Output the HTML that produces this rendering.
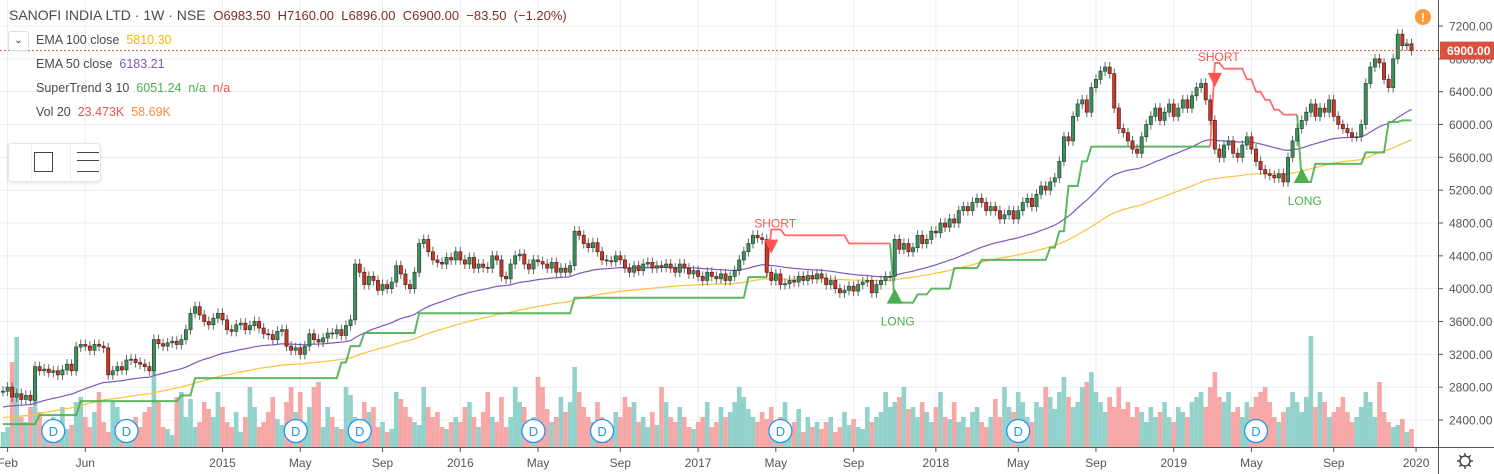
<!DOCTYPE html>
<html><head><meta charset="utf-8">
<style>
body{margin:0;width:1494px;height:474px;overflow:hidden;background:#fff;font-family:"Liberation Sans",sans-serif;position:relative}
svg{position:absolute;left:0;top:0}
.t{position:absolute;white-space:nowrap;font-size:12.5px;color:#4a4a4a}
</style></head><body>
<svg id="c" width="1494" height="474"></svg>
<div class="t" style="left:9px;top:7px;font-size:14px">SANOFI INDIA LTD · 1W · NSE&nbsp;&nbsp;<span style="color:#7a2e22;font-size:13px">O6983.50&nbsp;&nbsp;H7160.00&nbsp;&nbsp;L6896.00&nbsp;&nbsp;C6900.00&nbsp;&nbsp;−83.50&nbsp;&nbsp;(−1.20%)</span></div>
<div style="position:absolute;left:8px;top:31px;width:19px;height:18px;border:1px solid #ddd;border-radius:3px;background:#fff;font-size:10px;text-align:center;line-height:17px;color:#333">&#8964;</div>
<div class="t" style="left:36px;top:33px">EMA 100 close&nbsp;&nbsp;<span style="color:#f9b800">5810.30</span></div>
<div class="t" style="left:36px;top:57px">EMA 50 close&nbsp;&nbsp;<span style="color:#7e57c2">6183.21</span></div>
<div class="t" style="left:36px;top:81px">SuperTrend 3 10&nbsp;&nbsp;<span style="color:#4caf50">6051.24&nbsp;&nbsp;n/a</span>&nbsp;&nbsp;<span style="color:#ef5350">n/a</span></div>
<div class="t" style="left:36px;top:105px">Vol 20&nbsp;&nbsp;<span style="color:#ef5350">23.473K</span>&nbsp;&nbsp;<span style="color:#ff8a3c">58.69K</span></div>
<div style="position:absolute;left:8px;top:143px;width:91px;height:37px;border:1px solid #e6e6e6;border-radius:4px;background:#fff;box-shadow:0 1px 3px rgba(0,0,0,.12)">
 <div style="position:absolute;left:22px;top:0;width:1px;height:37px;background:#eee"></div>
 <div style="position:absolute;left:61px;top:0;width:1px;height:37px;background:#eee"></div>
 <div style="position:absolute;left:25px;top:8px;width:17px;height:18px;border:1.5px solid #444"></div>
 <div style="position:absolute;left:68px;top:8px;width:22px;height:18px;border-top:1.5px solid #444;border-bottom:1.5px solid #444"><div style="margin-top:7px;border-top:1.5px solid #444"></div></div>
</div>
<script>
const closes=[2750,2800,2680,2720,2650,2700,2640,
3050,3000,3020,2980,3000,2950,3010,3080,3000,
3290,3320,3300,3250,3320,3300,3280,
2950,3000,3050,3010,3130,3140,3100,3080,3050,3000,
3380,3330,3300,3340,3360,3320,3380,3500,
3700,3780,3680,3600,3560,3640,3700,3620,3500,3480,3560,
3580,3500,3550,3600,3520,3450,3440,3380,3480,3500,3300,3250,3280,
3200,3300,3450,3380,3350,3400,3460,3450,3500,3430,3550,3620,
4300,4200,4050,4150,4100,3980,4050,4000,4080,
4280,4180,4050,4000,4200,4550,
4600,4450,4350,4320,4300,4380,4350,4450,4350,4300,4380,4250,4300,
4260,4250,4400,4350,4150,4120,4300,4400,4420,4300,4240,4350,4330,4300,4250,4320,4200,4250,4200,4280,
4700,4650,4550,4500,4560,4450,4350,
4340,4330,4400,4350,4250,4200,4280,4220,4300,4320,4250,4280,4260,4300,4250,4200,4300,
4250,4180,4220,4150,4100,4200,4150,4120,4180,4100,4150,4220,
4350,4450,4550,4650,4620,4600,
4200,4100,4180,4050,4060,4100,4080,4150,4100,4160,4120,4180,4130,4050,4100,
4000,3950,3980,4030,3970,4050,4080,4100,3950,4050,4100,4150,4150,
4600,4480,4550,4450,4500,4650,4550,4600,4700,4680,
4800,4750,4850,4800,4950,5000,4950,5050,
5100,5050,4950,5000,4950,4850,4900,4950,
4850,4950,5050,5100,5000,5150,5250,5200,5300,5350,
5550,5850,5800,
6100,6250,6300,6150,6450,6550,6650,
6700,6620,6200,5950,
5900,5800,5700,5650,5850,
6000,6100,6200,6050,6150,6250,6100,6200,
6300,6200,6350,6450,6500,6300,6050,
5700,5600,5750,5800,5650,5600,5750,5850,
5700,5550,5450,5400,5380,5350,5400,5300,
5600,5800,5950,6050,6150,6250,6100,6200,6150,6300,6100,
6000,5950,5900,5850,5850,
6000,6500,6700,6800,
6750,6550,6450,6800,
7100,6960,6983,6900];
const volumes=[15,20,85,110,30,25,40,55,35,20,15,30,25,40,18,22,45,50,30,20,
35,55,25,15,45,40,25,18,12,30,20,35,40,77,45,20,18,12,50,55,
30,48,20,25,45,38,30,55,40,25,20,35,15,30,60,40,20,25,35,50,
28,22,45,60,35,55,25,40,60,65,20,40,30,20,18,60,52,30,25,45,
35,40,20,25,15,18,55,48,40,30,25,22,60,40,30,35,20,18,25,30,
25,40,45,30,20,35,55,30,25,50,20,30,60,45,40,25,30,70,60,38,
25,30,50,35,45,80,55,40,30,25,45,30,25,20,35,30,50,40,45,25,
30,20,35,22,60,45,30,25,40,30,20,18,25,30,45,20,25,40,30,35,
45,60,50,38,30,25,35,28,40,22,30,45,20,25,38,15,30,20,25,18,
25,30,15,20,35,22,28,20,18,40,25,30,35,55,40,45,50,60,38,40,
30,45,35,25,40,55,30,28,45,25,30,20,35,40,25,20,30,48,30,60,
40,35,55,45,30,25,45,40,60,50,38,55,70,50,40,45,60,65,75,55,
45,35,50,40,60,38,45,30,40,35,25,40,30,35,45,30,25,40,35,30,
45,50,55,40,60,75,50,45,55,35,40,30,45,40,50,55,60,45,30,25,
35,40,55,45,35,50,111,40,55,45,30,35,40,50,35,25,30,40,55,45,
30,65,35,25,20,22,28,15,18];
// supertrend segments: start index, end index (exclusive), level, direction
const stStart=[0,8,17,39,42,74,76,79,91,125,163,168,171,185,195,200,203,208,214,229,231,233,236,238,265,267,272,274,276,278,280,284,287,298,303,306];
const stLevel=[2350,2460,2630,2700,2910,3100,3300,3460,3700,3890,4140,4720,4650,4550,3830,3930,4000,4250,4350,4500,4700,5250,5550,5730,6750,6680,6550,6400,6300,6180,6120,5300,5520,5660,6030,6050];
const stDir=[1,1,1,1,1,1,1,1,1,1,1,-1,-1,-1,1,1,1,1,1,1,1,1,1,1,-1,-1,-1,-1,-1,-1,-1,1,1,1,1,1];
const priceTicks=[7200,6800,6400,6000,5600,5200,4800,4400,4000,3600,3200,2800,2400];
const timeLabels=["Feb","Jun","2015","May","Sep","2016","May","Sep","2017","May","Sep","2018","May","Sep","2019","May","Sep","2020"];
const timeWeeks=[1,18,48,65,83,100,117,135,152,169,186,204,222,239,256,273,291,309];
const dividendWeeks=[11,27,64,78,116,131,170,222,274];
const signalWeeks=[168,195,265,284];
const signalType=["SHORT","LONG","SHORT","LONG"];

const NS="http://www.w3.org/2000/svg",svg=document.getElementById('c');
const X=i=>3+4.573*i, Y=p=>26+(7200-p)*0.082083, VB=447, VY=v=>VB-v;
function mk(tag,a,parent){const e=document.createElementNS(NS,tag);for(const k in a)e.setAttribute(k,a[k]);(parent||svg).appendChild(e);return e;}
// grid
priceTicks.forEach(p=>{const l=mk('line',{x1:0,x2:1438,y1:Y(p),y2:Y(p),stroke:'#ececec'});

});
timeWeeks.forEach(w=>{const l=mk('line',{x1:X(w),x2:X(w),y1:0,y2:447,stroke:'#ececec'});

});
// volume
const opens=closes.map((c,i)=>i?closes[i-1]:c);
volumes.forEach((v,i)=>{const up=closes[i]>=opens[i];const r=mk('rect',{x:X(i)-2.3,y:VY(v),width:4.6,height:v,fill:up?'#92d2cb':'#f6a7a6'});

});
// EMAs
function ema(n,seed){let e=seed;return closes.map(c=>{e=e+(c-e)*2/(n+1);return e;});}
[[ema(100,2420),'#f9c23c','ema-100-line'],[ema(50,2550),'#7e57c2','ema-50-line']].forEach(([a,col,nm])=>{
const p=mk('polyline',{points:a.map((v,i)=>X(i)+','+Y(v)).join(' '),fill:'none',stroke:col,'stroke-width':1.2});

});
// supertrend
const stVals=[],stD=[];
stStart.forEach((s,k)=>{const e=k+1<stStart.length?stStart[k+1]:closes.length;for(let i=s;i<e;i++){stVals[i]=stLevel[k];stD[i]=stDir[k];}});
let run=[],runDir=stD[0];
function flush(){if(run.length){const p=mk('polyline',{points:run.join(' '),fill:'none',stroke:runDir>0?'#4caf50':'#ff5252','stroke-width':runDir>0?2:1.8,'stroke-opacity':runDir>0?0.9:0.85});

}}
stVals.forEach((v,i)=>{if(stD[i]!==runDir){const last=run[run.length-1];flush();run=[last];runDir=stD[i];}run.push(X(i)+','+Y(v));});
flush();
// candles
closes.forEach((c,i)=>{const o=opens[i],up=c>=o,x=X(i),yt=Y(Math.max(o,c)),yb=Y(Math.min(o,c));
const g=mk('g',{});


mk('line',{x1:x,x2:x,y1:yt-5,y2:yb+5,stroke:'#666'},g);
mk('rect',{x:x-1.6,y:yt,width:3.2,height:Math.max(1,yb-yt),fill:up?'#3f8f5d':'#c43a2c',stroke:up?'#1e4a30':'#5a1a14','stroke-width':0.7},g);});
// signals
signalWeeks.forEach((w,k)=>{const x=X(w),g=mk('g',{});


if(signalType[k]=='SHORT'){const y=Y(stVals[w]);
mk('path',{d:`M${x-7} ${y+10}L${x+7} ${y+10}L${x} ${y+24}Z`,fill:'#ff5252'},g);
const t=mk('text',{x:x-17,y:y-2,fill:'#ff5252','font-size':12,'font-family':'Liberation Sans'},g);t.textContent='SHORT';}
else{const y=Y(stVals[w]);
mk('path',{d:`M${x-8} ${y+1}L${x+8} ${y+1}L${x} ${y-14}Z`,fill:'#4caf50'},g);
const t=mk('text',{x:x-14,y:y+23,fill:'#4caf50','font-size':12,'font-family':'Liberation Sans'},g);t.textContent='LONG';}});
// dividends
dividendWeeks.forEach(w=>{const g=mk('g',{});


mk('circle',{cx:X(w),cy:431,r:11.5,fill:'#fff',stroke:'#2196f3','stroke-width':1.3},g);
const t=mk('text',{x:X(w),y:436,fill:'#2196f3','font-size':13,'text-anchor':'middle','font-family':'Liberation Sans'},g);t.textContent='D';});
// last price line
const lp=mk('line',{x1:0,x2:1438,y1:Y(6900),y2:Y(6900),stroke:'#e0503c','stroke-dasharray':'2,2'});


// axes
mk('line',{x1:1438.5,x2:1438.5,y1:0,y2:474,stroke:'#555'});
mk('line',{x1:0,x2:1494,y1:447.5,y2:447.5,stroke:'#555'});
priceTicks.forEach(p=>{mk('line',{x1:1438,x2:1443,y1:Y(p),y2:Y(p),stroke:'#555'});
const t=mk('text',{x:1449,y:Y(p)+4.5,fill:'#555','font-size':12,'font-family':'Liberation Sans'});t.textContent=p.toFixed(2);

});
timeLabels.forEach((s,k)=>{const x=X(timeWeeks[k]);mk('line',{x1:x,x2:x,y1:447,y2:452,stroke:'#555'});
const t=mk('text',{x:x,y:467,fill:'#555','font-size':12,'text-anchor':'middle','font-family':'Liberation Sans'});t.textContent=s;

});
const lb=mk('rect',{x:1440,y:Y(6900)-9,width:54,height:18,fill:'#d9503f'});


const lt=mk('text',{x:1447,y:Y(6900)+4.5,fill:'#fff','font-size':12,'font-weight':'bold','font-family':'Liberation Sans'});lt.textContent='6900.00';
// warning icon
const wi=mk('g',{});


mk('circle',{cx:1423,cy:17,r:8,fill:'#ff9a3c'},wi);
const wt=mk('text',{x:1423,y:21.5,fill:'#fff','font-size':12,'font-weight':'bold','text-anchor':'middle','font-family':'Liberation Sans'},wi);wt.textContent='!';
// settings gear
const gear=mk('g',{});


mk('circle',{cx:1465,cy:461,r:5,fill:'none',stroke:'#333','stroke-width':1.3},gear);
for(let a=0;a<8;a++){const r=a*Math.PI/4;mk('line',{x1:1465+5*Math.cos(r),y1:461+5*Math.sin(r),x2:1465+8*Math.cos(r),y2:461+8*Math.sin(r),stroke:'#333','stroke-width':1.3},gear);}
</script>
</body></html>
